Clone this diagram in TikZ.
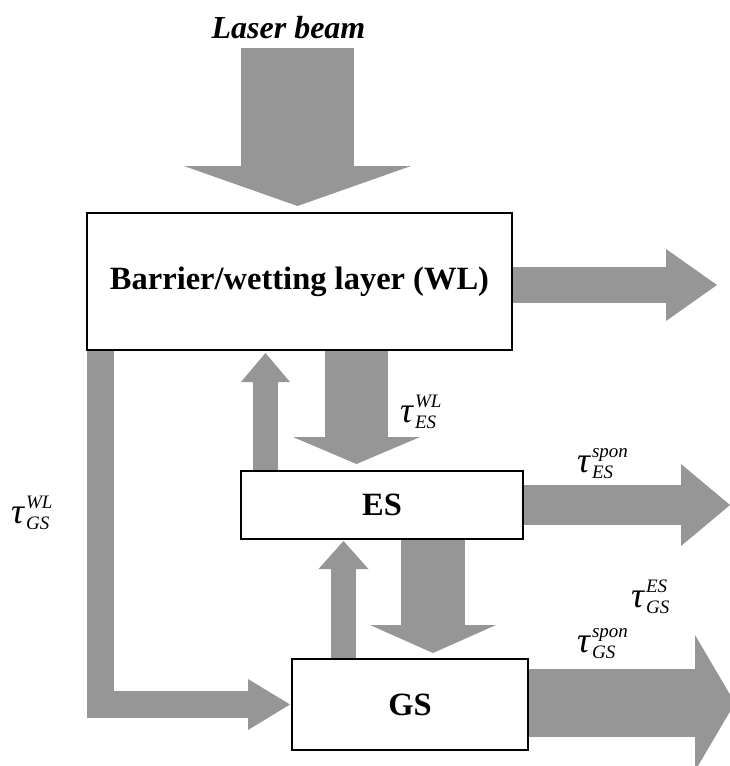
\documentclass[tikz,border=0pt]{standalone}
\usepackage{fontspec}
\setmainfont{Liberation Serif}
\usepackage{xcolor}
\definecolor{beamGray}{HTML}{969696}
\definecolor{levelLine}{HTML}{000000}
\usepackage{tikz}
\usetikzlibrary{arrows.meta,positioning,backgrounds}
\newcommand{\lifetime}[2]{%
    {\fontsize{36}{36}\selectfont\itshape τ}\hspace{2pt}%
    \rlap{\raisebox{15pt}{\fontsize{19}{19}\selectfont\itshape #1}}%
    \raisebox{-6pt}{\fontsize{19}{19}\selectfont\itshape #2}}
\tikzset{
    level/.style={
        draw=levelLine,
        fill=white,
        rectangle,
        line width=1.8pt,
        inner sep=0pt,
        outer sep=0pt,
        align=center,
        font=\fontsize{32.5}{38}\selectfont\bfseries
    },
    beam/.style n args={3}{
        line width=#1,
        draw=beamGray,
        line join=miter,
        -{Triangle[length=#2, width=#3, line width=0pt]}
    },
    beamlabel/.style={
        font=\fontsize{32}{38}\selectfont\bfseries\itshape,
        inner sep=0pt
    },
    tlabel/.style={
        inner sep=0pt,
        anchor=base west
    }
}

\begin{document}
\begin{tikzpicture}[x=1pt, y=-1pt]
    \useasboundingbox (0,0) rectangle (729,766);
    \clip (0,0) rectangle (729,766);

    % Energy levels
    \node[level, minimum width=425pt, minimum height=137pt] (wl) at (299.5,281.5) {Barrier/wetting layer (WL)};
    \node[level, minimum width=282pt, minimum height=68pt, below right=121pt and 154pt of wl.south west] (es) {ES};
    \node[level, minimum width=236pt, minimum height=91pt, below right=120pt and 51pt of es.south west] (gs) {GS};

    % Pump
    \node[beamlabel, anchor=base] (laser) at (288.5,38) {Laser beam};
    \coordinate (beamtop) at (297.5,48);

    % Arrow positions
    \coordinate (wlES) at ([xshift=115.5pt]es.north west);
    \coordinate (esWL) at ([xshift=24.5pt]es.north west);
    \coordinate (esGS) at ([xshift=192pt]es.south west);
    \coordinate (gsES) at ([xshift=51.5pt]gs.north west);
    \coordinate (wlGS) at ([xshift=13.5pt]wl.south west);
    \coordinate (wlout) at (717,285);
    \coordinate (esout) at (730,505);
    \coordinate (gsout) at (735,703);

    % Transitions
    \begin{scope}[on background layer]
        \draw[beam={113pt}{40pt}{227pt}, shorten >=7pt] (beamtop) -- (beamtop |- wl.north);
        \draw[beam={36pt}{51pt}{72pt}] (wl.east |- wlout) -- (wlout);
        \draw[beam={63pt}{27pt}{127pt}, shorten >=7pt] (wlES |- wl.south) -- (wlES);
        \draw[beam={25pt}{29pt}{49pt}, shorten >=3pt] (esWL) -- (esWL |- wl.south);
        \draw[beam={40pt}{49pt}{82pt}] (es.east |- esout) -- (esout);
        \draw[beam={64pt}{28pt}{126pt}, shorten >=6pt] (esGS) -- (esGS |- gs.north);
        \draw[beam={25pt}{28pt}{50pt}, shorten >=2pt] (gsES) -- (gsES |- es.south);
        \draw[beam={68pt}{40pt}{136pt}] (gs.east |- gsout) -- (gsout);
        \draw[beam={27pt}{42pt}{51pt}, shorten >=2pt] (wlGS) |- (gs.west);
    \end{scope}

    % Lifetimes
    \node[tlabel] (tauWLES) at (400,422) {\lifetime{WL}{ES}};
    \node[tlabel] (tauESsp) at (577,472) {\lifetime{spon}{ES}};
    \node[tlabel] (tauGSES) at (631,607) {\lifetime{ES}{GS}};
    \node[tlabel] (tauGSsp) at (577,652) {\lifetime{spon}{GS}};
    \node[tlabel] (tauWLGS) at (11,523) {\lifetime{WL}{GS}};
\end{tikzpicture}
\end{document}
